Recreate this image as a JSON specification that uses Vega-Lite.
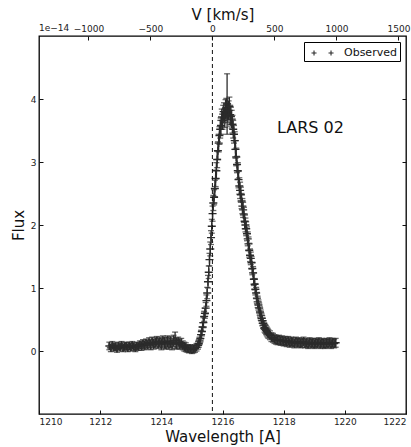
{
  "$schema": "https://vega.github.io/schema/vega-lite/v6.json",
  "width": 367,
  "height": 378,
  "autosize": {"type": "none"},
  "padding": {"left": 39, "top": 36, "right": 5, "bottom": 33},
  "background": "white",
  "config": {
    "view": {"stroke": "black", "strokeWidth": 1.3},
    "font": "DejaVu Sans",
    "axis": {
      "grid": false,
      "domain": false,
      "tickColor": "#111",
      "tickSize": -4,
      "tickWidth": 1,
      "labelFont": "DejaVu Sans",
      "labelFontSize": 9,
      "labelColor": "#222",
      "titleFont": "DejaVu Sans",
      "titleFontSize": 15,
      "titleFontWeight": "normal",
      "titleColor": "#111"
    },
    "legend": {
      "orient": "top-right",
      "offset": 6,
      "strokeColor": "black",
      "strokeWidth": 1,
      "fillColor": "white",
      "cornerRadius": 0,
      "padding": 3,
      "labelFont": "DejaVu Sans",
      "labelFontSize": 11,
      "labelColor": "#111",
      "symbolType": "M-0.5,0H0.22M-0.14,-0.36V0.36M1.93,0H2.65M2.29,-0.36V0.36",
      "symbolSize": 196,
      "symbolStrokeWidth": 1.1,
      "symbolFillColor": "transparent",
      "symbolStrokeColor": "#111",
      "labelOffset": 21
    }
  },
  "datasets": {
    "spec": [
      {"w": 1212.30, "f": 0.08, "e": 0.06}, {"w": 1212.35, "f": 0.05, "e": 0.06}, {"w": 1212.40, "f": 0.09, "e": 0.06},
      {"w": 1212.45, "f": 0.06, "e": 0.06}, {"w": 1212.50, "f": 0.07, "e": 0.06}, {"w": 1212.55, "f": 0.04, "e": 0.06},
      {"w": 1212.60, "f": 0.08, "e": 0.06}, {"w": 1212.65, "f": 0.06, "e": 0.06}, {"w": 1212.70, "f": 0.09, "e": 0.06},
      {"w": 1212.75, "f": 0.05, "e": 0.06}, {"w": 1212.80, "f": 0.07, "e": 0.06}, {"w": 1212.85, "f": 0.08, "e": 0.06},
      {"w": 1212.90, "f": 0.05, "e": 0.06}, {"w": 1212.95, "f": 0.08, "e": 0.06}, {"w": 1213.00, "f": 0.06, "e": 0.06},
      {"w": 1213.05, "f": 0.09, "e": 0.06}, {"w": 1213.10, "f": 0.07, "e": 0.06}, {"w": 1213.15, "f": 0.05, "e": 0.06},
      {"w": 1213.20, "f": 0.08, "e": 0.06}, {"w": 1213.25, "f": 0.07, "e": 0.06}, {"w": 1213.30, "f": 0.10, "e": 0.06},
      {"w": 1213.35, "f": 0.08, "e": 0.07}, {"w": 1213.40, "f": 0.11, "e": 0.07}, {"w": 1213.45, "f": 0.09, "e": 0.07},
      {"w": 1213.50, "f": 0.12, "e": 0.07}, {"w": 1213.55, "f": 0.10, "e": 0.07}, {"w": 1213.60, "f": 0.13, "e": 0.08},
      {"w": 1213.65, "f": 0.10, "e": 0.08}, {"w": 1213.70, "f": 0.14, "e": 0.08}, {"w": 1213.75, "f": 0.11, "e": 0.08},
      {"w": 1213.80, "f": 0.13, "e": 0.08}, {"w": 1213.85, "f": 0.15, "e": 0.08}, {"w": 1213.90, "f": 0.12, "e": 0.08},
      {"w": 1213.95, "f": 0.14, "e": 0.08}, {"w": 1214.00, "f": 0.11, "e": 0.09}, {"w": 1214.05, "f": 0.15, "e": 0.09},
      {"w": 1214.10, "f": 0.13, "e": 0.09}, {"w": 1214.15, "f": 0.12, "e": 0.09}, {"w": 1214.20, "f": 0.15, "e": 0.09},
      {"w": 1214.25, "f": 0.12, "e": 0.09}, {"w": 1214.30, "f": 0.14, "e": 0.09}, {"w": 1214.35, "f": 0.11, "e": 0.09},
      {"w": 1214.40, "f": 0.16, "e": 0.09}, {"w": 1214.45, "f": 0.17, "e": 0.13}, {"w": 1214.50, "f": 0.12, "e": 0.09},
      {"w": 1214.55, "f": 0.14, "e": 0.08}, {"w": 1214.60, "f": 0.11, "e": 0.08}, {"w": 1214.65, "f": 0.12, "e": 0.08},
      {"w": 1214.70, "f": 0.09, "e": 0.07}, {"w": 1214.75, "f": 0.07, "e": 0.07}, {"w": 1214.80, "f": 0.06, "e": 0.07},
      {"w": 1214.85, "f": 0.04, "e": 0.06}, {"w": 1214.90, "f": 0.03, "e": 0.06}, {"w": 1214.95, "f": 0.04, "e": 0.06},
      {"w": 1215.00, "f": 0.02, "e": 0.06}, {"w": 1215.05, "f": 0.03, "e": 0.06}, {"w": 1215.10, "f": 0.04, "e": 0.06},
      {"w": 1215.15, "f": 0.06, "e": 0.06},
      {"w": 1215.200, "f": 0.09, "e": 0.06}, {"w": 1215.225, "f": 0.12, "e": 0.06}, {"w": 1215.250, "f": 0.16, "e": 0.06},
      {"w": 1215.275, "f": 0.20, "e": 0.06}, {"w": 1215.300, "f": 0.26, "e": 0.07}, {"w": 1215.325, "f": 0.31, "e": 0.07},
      {"w": 1215.350, "f": 0.38, "e": 0.07}, {"w": 1215.375, "f": 0.45, "e": 0.08}, {"w": 1215.400, "f": 0.55, "e": 0.08},
      {"w": 1215.425, "f": 0.60, "e": 0.08}, {"w": 1215.450, "f": 0.68, "e": 0.09}, {"w": 1215.475, "f": 0.80, "e": 0.09},
      {"w": 1215.500, "f": 0.92, "e": 0.09}, {"w": 1215.525, "f": 1.10, "e": 0.10}, {"w": 1215.550, "f": 1.25, "e": 0.10},
      {"w": 1215.575, "f": 1.45, "e": 0.10}, {"w": 1215.600, "f": 1.62, "e": 0.11}, {"w": 1215.625, "f": 1.80, "e": 0.11},
      {"w": 1215.650, "f": 1.98, "e": 0.11}, {"w": 1215.675, "f": 2.18, "e": 0.12}, {"w": 1215.700, "f": 2.35, "e": 0.12},
      {"w": 1215.725, "f": 2.44, "e": 0.12}, {"w": 1215.750, "f": 2.58, "e": 0.13}, {"w": 1215.775, "f": 2.74, "e": 0.13},
      {"w": 1215.800, "f": 2.86, "e": 0.13}, {"w": 1215.825, "f": 3.04, "e": 0.13}, {"w": 1215.850, "f": 3.18, "e": 0.14},
      {"w": 1215.875, "f": 3.30, "e": 0.14}, {"w": 1215.900, "f": 3.42, "e": 0.14}, {"w": 1215.925, "f": 3.52, "e": 0.14},
      {"w": 1215.950, "f": 3.58, "e": 0.14}, {"w": 1215.975, "f": 3.70, "e": 0.14}, {"w": 1216.000, "f": 3.66, "e": 0.14},
      {"w": 1216.025, "f": 3.76, "e": 0.14}, {"w": 1216.050, "f": 3.80, "e": 0.14}, {"w": 1216.075, "f": 3.70, "e": 0.15},
      {"w": 1216.100, "f": 3.84, "e": 0.15}, {"w": 1216.125, "f": 3.86, "e": 0.15}, {"w": 1216.150, "f": 3.92, "e": 0.48},
      {"w": 1216.175, "f": 3.78, "e": 0.15}, {"w": 1216.200, "f": 3.82, "e": 0.15}, {"w": 1216.225, "f": 3.88, "e": 0.15},
      {"w": 1216.250, "f": 3.75, "e": 0.15}, {"w": 1216.275, "f": 3.72, "e": 0.15}, {"w": 1216.300, "f": 3.68, "e": 0.14},
      {"w": 1216.325, "f": 3.60, "e": 0.14}, {"w": 1216.350, "f": 3.52, "e": 0.14}, {"w": 1216.375, "f": 3.44, "e": 0.14},
      {"w": 1216.400, "f": 3.34, "e": 0.14}, {"w": 1216.425, "f": 3.20, "e": 0.14}, {"w": 1216.450, "f": 3.08, "e": 0.14},
      {"w": 1216.475, "f": 2.96, "e": 0.13}, {"w": 1216.500, "f": 2.86, "e": 0.13}, {"w": 1216.525, "f": 2.72, "e": 0.13},
      {"w": 1216.550, "f": 2.62, "e": 0.13}, {"w": 1216.575, "f": 2.55, "e": 0.13}, {"w": 1216.600, "f": 2.48, "e": 0.12},
      {"w": 1216.625, "f": 2.38, "e": 0.12}, {"w": 1216.650, "f": 2.30, "e": 0.12}, {"w": 1216.675, "f": 2.24, "e": 0.12},
      {"w": 1216.700, "f": 2.16, "e": 0.12}, {"w": 1216.725, "f": 2.06, "e": 0.12}, {"w": 1216.750, "f": 2.00, "e": 0.11},
      {"w": 1216.775, "f": 1.94, "e": 0.11}, {"w": 1216.800, "f": 1.86, "e": 0.11}, {"w": 1216.825, "f": 1.78, "e": 0.11},
      {"w": 1216.850, "f": 1.70, "e": 0.11}, {"w": 1216.875, "f": 1.60, "e": 0.11}, {"w": 1216.900, "f": 1.52, "e": 0.10},
      {"w": 1216.925, "f": 1.47, "e": 0.10}, {"w": 1216.950, "f": 1.40, "e": 0.10}, {"w": 1216.975, "f": 1.31, "e": 0.10},
      {"w": 1217.000, "f": 1.24, "e": 0.10}, {"w": 1217.025, "f": 1.14, "e": 0.10}, {"w": 1217.050, "f": 1.06, "e": 0.09},
      {"w": 1217.075, "f": 0.98, "e": 0.09}, {"w": 1217.100, "f": 0.92, "e": 0.09}, {"w": 1217.125, "f": 0.84, "e": 0.09},
      {"w": 1217.150, "f": 0.78, "e": 0.09}, {"w": 1217.175, "f": 0.73, "e": 0.08}, {"w": 1217.200, "f": 0.68, "e": 0.08},
      {"w": 1217.225, "f": 0.62, "e": 0.08}, {"w": 1217.250, "f": 0.57, "e": 0.08}, {"w": 1217.275, "f": 0.52, "e": 0.08},
      {"w": 1217.300, "f": 0.48, "e": 0.08}, {"w": 1217.325, "f": 0.44, "e": 0.08}, {"w": 1217.350, "f": 0.41, "e": 0.07},
      {"w": 1217.375, "f": 0.37, "e": 0.07}, {"w": 1217.400, "f": 0.35, "e": 0.07}, {"w": 1217.425, "f": 0.33, "e": 0.07},
      {"w": 1217.450, "f": 0.31, "e": 0.07}, {"w": 1217.475, "f": 0.29, "e": 0.07}, {"w": 1217.500, "f": 0.27, "e": 0.07},
      {"w": 1217.55, "f": 0.25, "e": 0.07}, {"w": 1217.60, "f": 0.22, "e": 0.07}, {"w": 1217.65, "f": 0.21, "e": 0.07},
      {"w": 1217.70, "f": 0.19, "e": 0.07}, {"w": 1217.75, "f": 0.18, "e": 0.07}, {"w": 1217.80, "f": 0.17, "e": 0.07},
      {"w": 1217.85, "f": 0.18, "e": 0.07}, {"w": 1217.90, "f": 0.16, "e": 0.07}, {"w": 1217.95, "f": 0.17, "e": 0.07},
      {"w": 1218.00, "f": 0.15, "e": 0.07}, {"w": 1218.05, "f": 0.16, "e": 0.07}, {"w": 1218.10, "f": 0.14, "e": 0.07},
      {"w": 1218.15, "f": 0.16, "e": 0.07}, {"w": 1218.20, "f": 0.13, "e": 0.07}, {"w": 1218.25, "f": 0.15, "e": 0.07},
      {"w": 1218.30, "f": 0.14, "e": 0.07}, {"w": 1218.35, "f": 0.12, "e": 0.07}, {"w": 1218.40, "f": 0.15, "e": 0.07},
      {"w": 1218.45, "f": 0.13, "e": 0.07}, {"w": 1218.50, "f": 0.14, "e": 0.07}, {"w": 1218.55, "f": 0.12, "e": 0.07},
      {"w": 1218.60, "f": 0.13, "e": 0.07}, {"w": 1218.65, "f": 0.15, "e": 0.07}, {"w": 1218.70, "f": 0.12, "e": 0.07},
      {"w": 1218.75, "f": 0.13, "e": 0.07}, {"w": 1218.80, "f": 0.11, "e": 0.07}, {"w": 1218.85, "f": 0.14, "e": 0.07},
      {"w": 1218.90, "f": 0.12, "e": 0.07}, {"w": 1218.95, "f": 0.13, "e": 0.07}, {"w": 1219.00, "f": 0.11, "e": 0.07},
      {"w": 1219.05, "f": 0.13, "e": 0.07}, {"w": 1219.10, "f": 0.12, "e": 0.07}, {"w": 1219.15, "f": 0.14, "e": 0.07},
      {"w": 1219.20, "f": 0.11, "e": 0.07}, {"w": 1219.25, "f": 0.13, "e": 0.07}, {"w": 1219.30, "f": 0.12, "e": 0.07},
      {"w": 1219.35, "f": 0.11, "e": 0.07}, {"w": 1219.40, "f": 0.13, "e": 0.07}, {"w": 1219.45, "f": 0.12, "e": 0.07},
      {"w": 1219.50, "f": 0.14, "e": 0.07}, {"w": 1219.55, "f": 0.11, "e": 0.07}, {"w": 1219.60, "f": 0.13, "e": 0.07},
      {"w": 1219.65, "f": 0.12, "e": 0.07}, {"w": 1219.70, "f": 0.13, "e": 0.07}
    ],
    "labels": [
      {"w": 1217.78, "f": 3.54, "txt": "LARS 02", "kind": "name"},
      {"w": 1210.0, "f": 5.0, "txt": "1e\u221214", "kind": "offset"}
    ],
    "restline": [{"v": 0}]
  },
  "resolve": {"scale": {"x": "independent"}, "axis": {"y": "independent"}},
  "layer": [
    {
      "data": {"name": "spec"},
      "encoding": {
        "x": {"field": "w", "type": "quantitative", "scale": {"domain": [1210, 1222], "nice": false, "zero": false},
              "axis": {"orient": "bottom", "title": "Wavelength [A]", "values": [1210, 1212, 1214, 1216, 1218, 1220, 1222], "format": "d", "labelPadding": 7, "titlePadding": 3}},
        "y": {"field": "f", "type": "quantitative", "scale": {"domain": [-1, 5], "nice": false, "zero": false},
              "axis": {"orient": "left", "title": "Flux", "values": [0, 1, 2, 3, 4], "format": "d", "labelPadding": 7, "titlePadding": 4}}
      },
      "layer": [
        {
          "mark": {"type": "errorbar", "ticks": {"size": 6}, "color": "#2b2b2b", "thickness": 1.3},
          "encoding": {"yError": {"field": "e"}}
        },
        {
          "mark": {"type": "point", "shape": "M-1,0H1M0,-1V1", "size": 64, "filled": false, "strokeWidth": 1.4, "opacity": 1},
          "encoding": {
            "color": {"datum": "Observed", "type": "nominal", "scale": {"range": ["#2b2b2b"]}, "legend": {"title": null}}
          }
        }
      ]
    },
    {
      "data": {"name": "restline"},
      "mark": {"type": "rule", "strokeDash": [4, 3], "color": "#111", "strokeWidth": 1},
      "encoding": {
        "x": {"field": "v", "type": "quantitative", "scale": {"domain": [-1398.2, 1561.0], "nice": false, "zero": false},
              "axis": {"orient": "top", "title": "V [km/s]", "values": [-1000, -500, 0, 500, 1000, 1500], "format": "d", "labelPadding": 7, "titlePadding": 2}}
      }
    },
    {
      "data": {"name": "labels"},
      "encoding": {
        "x": {"field": "w", "type": "quantitative", "scale": {"domain": [1210, 1222], "nice": false, "zero": false}, "axis": null},
        "y": {"field": "f", "type": "quantitative", "scale": {"domain": [-1, 5], "nice": false, "zero": false},
              "axis": {"orient": "right", "title": null, "labels": false, "values": [0, 1, 2, 3, 4]}}
      },
      "layer": [
        {
          "transform": [{"filter": "datum.kind === 'name'"}],
          "mark": {"type": "text", "align": "left", "baseline": "middle", "fontSize": 16, "font": "DejaVu Sans", "color": "#111"},
          "encoding": {"text": {"field": "txt"}}
        },
        {
          "transform": [{"filter": "datum.kind === 'offset'"}],
          "mark": {"type": "text", "align": "left", "baseline": "bottom", "dy": -3, "fontSize": 9, "font": "DejaVu Sans", "color": "#222"},
          "encoding": {"text": {"field": "txt"}}
        }
      ]
    }
  ]
}
